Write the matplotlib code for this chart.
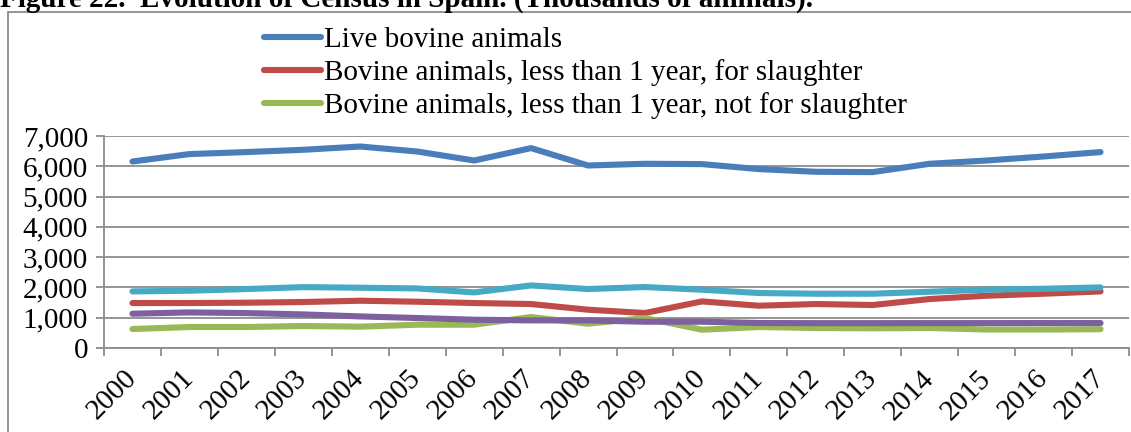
import numpy as np
import matplotlib.pyplot as plt
from matplotlib.patches import Rectangle

plt.rcParams['font.family'] = ['Liberation Serif', 'DejaVu Serif']

# Census series, thousands of animals
years = [str(y) for y in range(2000, 2018)]
live_bovine = [6158, 6403, 6469, 6545, 6653, 6488, 6191, 6600, 6026, 6083,
               6072, 5907, 5818, 5808, 6083, 6191, 6323, 6469]
under1_slaughter = [1485, 1485, 1496, 1518, 1561, 1528, 1485, 1452, 1264, 1155,
                    1538, 1396, 1452, 1419, 1617, 1726, 1792, 1868]
under1_not_slaughter = [627, 693, 693, 726, 704, 769, 769, 1023, 802, 990,
                        604, 693, 660, 650, 660, 610, 610, 620]
series_purple = [1132, 1175, 1153, 1109, 1043, 990, 934, 911, 911, 868,
                 868, 825, 820, 820, 822, 822, 823, 823]
series_cyan = [1868, 1891, 1947, 2010, 1990, 1967, 1835, 2066, 1947, 2013,
               1924, 1815, 1792, 1792, 1858, 1924, 1957, 2000]

labels = ['Live bovine animals',
          'Bovine animals, less than 1 year, for slaughter',
          'Bovine animals, less than 1 year, not for slaughter']

fig = plt.figure(figsize=(11.31, 4.32), dpi=100)
ax = fig.add_axes([104 / 1131, 84 / 432, 1025 / 1131, 212 / 432])

# outer frame of the chart object
fig.patches.append(Rectangle((8 / 1131, -0.2), 1.2, 0.2 + 1 - 12.5 / 432,
                             transform=fig.transFigure, fill=False,
                             edgecolor='#8c8c8c', linewidth=1.3))

fig.text(0.0, 1 - 7 / 432, 'Figure 22.  Evolution of Census in Spain. (Thousands of animals).',
         fontsize=21, fontweight='bold', ha='left', va='baseline')

x = np.arange(len(years)) + 0.5
lw = 4.4
l1, = ax.plot(x, live_bovine, color='#4a7ebb', lw=lw, solid_capstyle='round')
l2, = ax.plot(x, under1_slaughter, color='#be4b48', lw=lw, solid_capstyle='round')
l3, = ax.plot(x, under1_not_slaughter, color='#98b954', lw=lw, solid_capstyle='round')
ax.plot(x, series_purple, color='#7d60a0', lw=lw, solid_capstyle='round')
ax.plot(x, series_cyan, color='#46aac5', lw=lw, solid_capstyle='round')

ax.set_xlim(0, len(years))
ax.set_ylim(0, 7000)
ax.set_yticks(range(0, 7001, 1000))
ax.set_yticklabels([f'{v:,}' for v in range(0, 7001, 1000)])
ax.set_xticks(range(len(years) + 1))
ax.set_xticklabels([])
ax.set_xticks(x, minor=True)
ax.set_xticklabels(years, minor=True, rotation=45, ha='right', va='center',
                   rotation_mode='anchor')
ax.tick_params(axis='x', which='minor', length=0, pad=19)
ax.tick_params(axis='both', which='major', length=5.5, width=1.3, color='#8c8c8c',
               labelsize=21)
ax.tick_params(axis='x', which='minor', labelsize=21)
ax.tick_params(axis='y', pad=6)

ax.grid(axis='y', color='#8c8c8c', linewidth=1.3)
ax.set_axisbelow(True)
for side in ['top', 'right']:
    ax.spines[side].set_visible(False)
for side in ['left', 'bottom']:
    ax.spines[side].set_color('#8c8c8c')
    ax.spines[side].set_linewidth(1.3)

fig.legend([l1, l2, l3], labels, loc='upper left',
           bbox_to_anchor=(264 / 1131, 1 - 27 / 432), frameon=False,
           fontsize=21, handlelength=1.95, handletextpad=0.1,
           labelspacing=0.2, borderpad=0, borderaxespad=0)

fig.savefig('out.png', dpi=100)
